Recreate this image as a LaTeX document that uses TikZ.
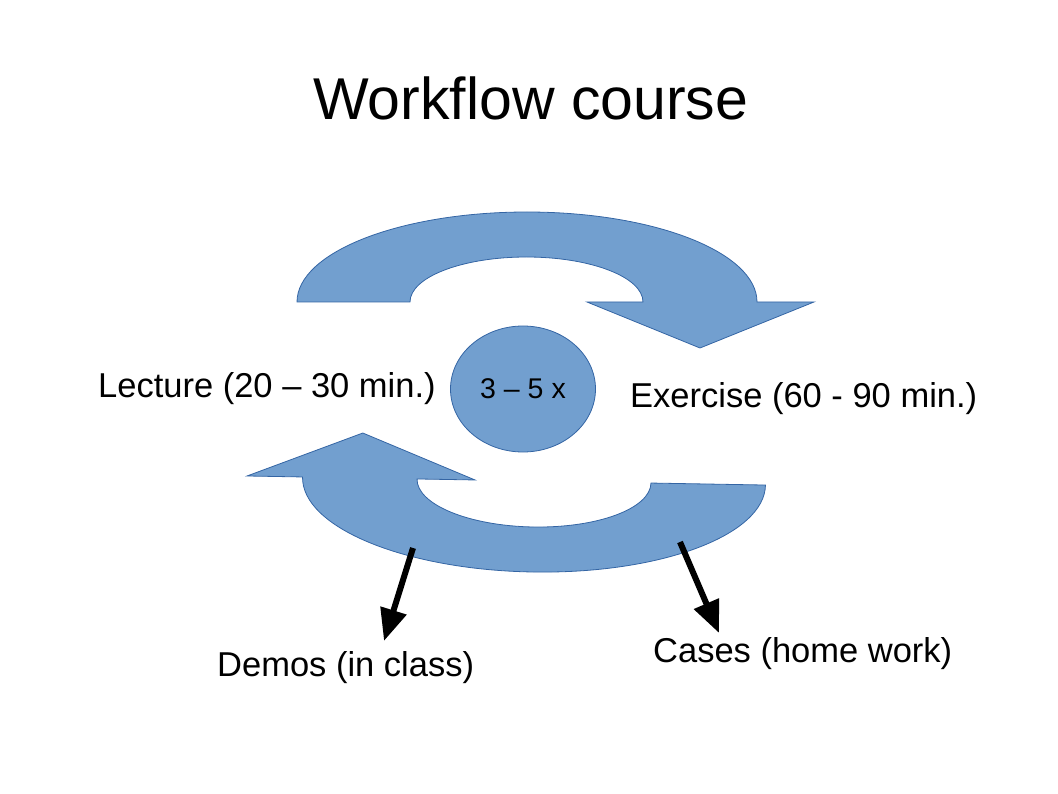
\documentclass[tikz,border=0pt]{standalone}
\usepackage{fontspec}
\setmainfont{Liberation Sans}
\usetikzlibrary{shapes.geometric,arrows.meta}
\definecolor{blueA}{HTML}{729FCF}
\definecolor{blueB}{HTML}{3465A4}
\tikzset{
  bluearrow/.style={fill=blueA, draw=blueB, line width=0.8pt, line join=miter},
  lbl/.style={font=\fontsize{34.5}{40}\selectfont, anchor=base west, inner sep=0pt},
  pointer/.style={line width=6pt, -{Triangle[width=26pt,length=32pt]}}
}
\begin{document}
\begin{tikzpicture}[x=1pt,y=-1pt]
\useasboundingbox (0,0) rectangle (1058,794);
% title
\node[font=\fontsize{59}{66}\selectfont, anchor=base west, inner sep=0pt] (title) at (313,120) {Workflow course};
% top arrow
\path[bluearrow] (297,302) arc[start angle=180, end angle=360, x radius=230, y radius=90]
  -- (814,302) -- (700,348) -- (587,302) -- (643,302)
  arc[start angle=0, end angle=-180, x radius=116.5, y radius=45] -- cycle;
% bottom arrow
\begin{scope}[rotate around={-1:(534,481)}]
\path[bluearrow] (765.5,481) arc[start angle=0, end angle=180, x radius=231.5, y radius=91]
  -- (247,481) -- (362,436) -- (475,481) -- (417,481)
  arc[start angle=180, end angle=0, x radius=117, y radius=46] -- cycle;
\end{scope}
% center ellipse
\node[ellipse, fill=blueA, draw=blueB, line width=0.8pt, minimum width=145pt, minimum height=126pt, inner sep=0pt,
  font=\fontsize{28.5}{34}\selectfont] (rep) at (523,389) {3 -- 5 x};
% labels
\node[lbl] (lecture) at (98,397) {Lecture (20 -- 30 min.)};
\node[lbl] (exercise) at (630,407) {Exercise (60 - 90 min.)};
\node[lbl] (demos) at (217,676) {Demos (in class)};
\node[lbl] (cases) at (653,662) {Cases (home work)};
% pointers
\coordinate (d0) at (413,548);
\coordinate (d1) at (384,641);
\coordinate (c0) at (680,542);
\coordinate (c1) at (719,633);
\draw[pointer] (d0) -- (d1);
\draw[pointer] (c0) -- (c1);
\end{tikzpicture}
\end{document}
